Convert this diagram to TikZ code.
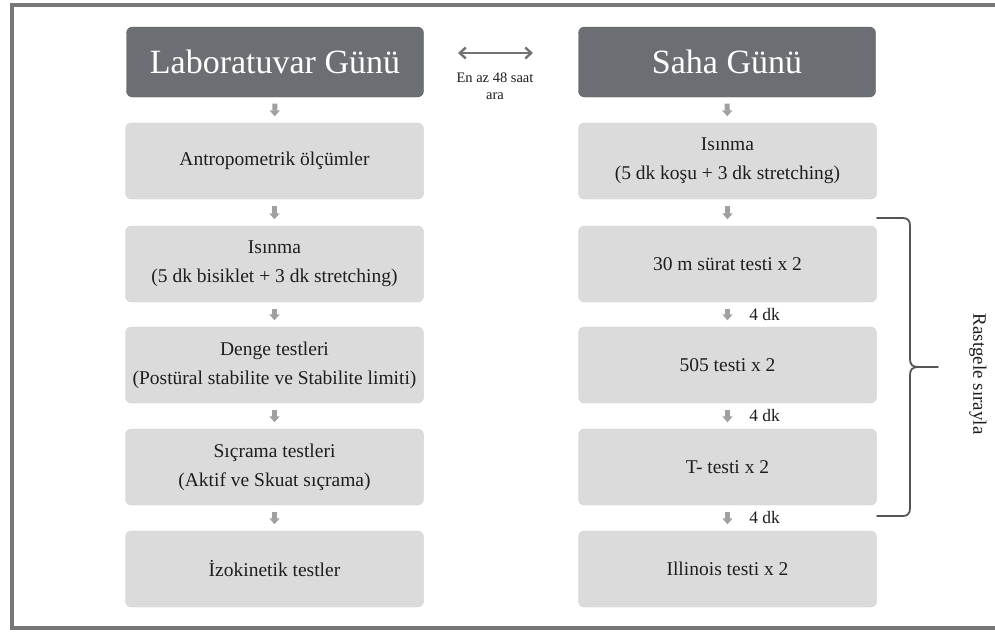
\documentclass[tikz,border=0pt]{standalone}
\usepackage{fontspec}
\setmainfont{Liberation Serif}
\usetikzlibrary{arrows.meta}
\definecolor{headgray}{HTML}{6B6E72}
\definecolor{boxgray}{HTML}{DBDBDB}
\definecolor{boxline}{HTML}{D0D0D0}
\definecolor{txtgray}{HTML}{1E1E1E}
\definecolor{arrgray}{HTML}{A0A0A0}
\definecolor{framegray}{HTML}{777777}
\definecolor{bracegray}{HTML}{555555}
\tikzset{
  headbox/.style={rectangle, rounded corners=6pt, fill=headgray, draw=headgray!85!black,
    minimum width=297pt, minimum height=70pt, text=white, inner sep=0pt,
    font=\fontsize{34}{40}\selectfont},
  stepbox/.style={rectangle, rounded corners=6pt, fill=boxgray, draw=boxline,
    minimum width=298pt, minimum height=76pt, text=txtgray, align=center, inner sep=0pt,
    font=\fontsize{19.5}{29}\selectfont},
  downarr/.style={draw=arrgray, line width=5pt, -{Triangle[width=10pt,length=6pt]},
    shorten <=6.5pt, shorten >=6.5pt},
  gaplabel/.style={right=16pt, text=txtgray, font=\fontsize{17.5}{20}\selectfont},
  dblarr/.style={draw=gray!90!black, line width=2.4pt, {Straight Barb[length=6pt,width=11pt]}-{Straight Barb[length=6pt,width=11pt]}},
  bracestyle/.style={draw=bracegray, line width=1.8pt, line cap=round},
  smalltxt/.style={text=txtgray, align=center, font=\fontsize{14.5}{17}\selectfont}
}
\begin{document}
\begin{tikzpicture}[x=1pt,y=-1pt]
\useasboundingbox (0,0) rectangle (995,632);
\clip (0,0) rectangle (995,632);
\fill[white] (0,0) rectangle (995,632);
\draw[framegray, line width=3.5pt] (12,5) rectangle (1010,628);

% headers
\node[headbox] (lab) at (275,62) {Laboratuvar Günü};
\node[headbox] (saha) at (727,62) {Saha Günü};

% left column
\node[stepbox] (l1) at (274.5,161) {Antropometrik ölçümler};
\node[stepbox] (l2) at (274.5,264) {Isınma\\(5 dk bisiklet + 3 dk stretching)};
\node[stepbox] (l3) at (274.5,365) {Denge testleri\\(Postüral stabilite ve Stabilite limiti)};
\node[stepbox] (l4) at (274.5,467) {Sıçrama testleri\\(Aktif ve Skuat sıçrama)};
\node[stepbox] (l5) at (274.5,569) {İzokinetik testler};

% right column
\node[stepbox] (r1) at (727.5,161) {Isınma\\(5 dk koşu + 3 dk stretching)};
\node[stepbox] (r2) at (727.5,264) {30 m sürat testi x 2};
\node[stepbox] (r3) at (727.5,365) {505 testi x 2};
\node[stepbox] (r4) at (727.5,467) {T- testi x 2};
\node[stepbox] (r5) at (727.5,569) {Illinois testi x 2};

% small arrows
\draw[downarr] (lab) -- (l1);
\draw[downarr] (l1) -- (l2);
\draw[downarr] (l2) -- (l3);
\draw[downarr] (l3) -- (l4);
\draw[downarr] (l4) -- (l5);
\draw[downarr] (saha) -- (r1);
\draw[downarr] (r1) -- (r2);
\draw[downarr] (r2) -- node[gaplabel] {4 dk} (r3);
\draw[downarr] (r3) -- node[gaplabel] {4 dk} (r4);
\draw[downarr] (r4) -- node[gaplabel] {4 dk} (r5);

% double arrow between days
\coordinate (dl) at (458,53);
\coordinate (dr) at (533,53);
\draw[dblarr] (dl) -- (dr);
\node[smalltxt] (gap) at (495,86) {En az 48 saat\\ara};

% brace
\draw[bracestyle] (877,218) -- (903,218) .. controls (908,218) and (910,221) .. (910,226)
  -- (910,359) .. controls (910,364) and (912,367) .. (918,367) -- (938,367);
\draw[bracestyle] (877,516) -- (903,516) .. controls (908,516) and (910,513) .. (910,508)
  -- (910,375) .. controls (910,370) and (912,367) .. (918,367);
\node[rotate=-90, text=txtgray, font=\fontsize{19}{22}\selectfont] (rnd) at (978,374) {Rastgele sırayla};
\end{tikzpicture}
\end{document}
